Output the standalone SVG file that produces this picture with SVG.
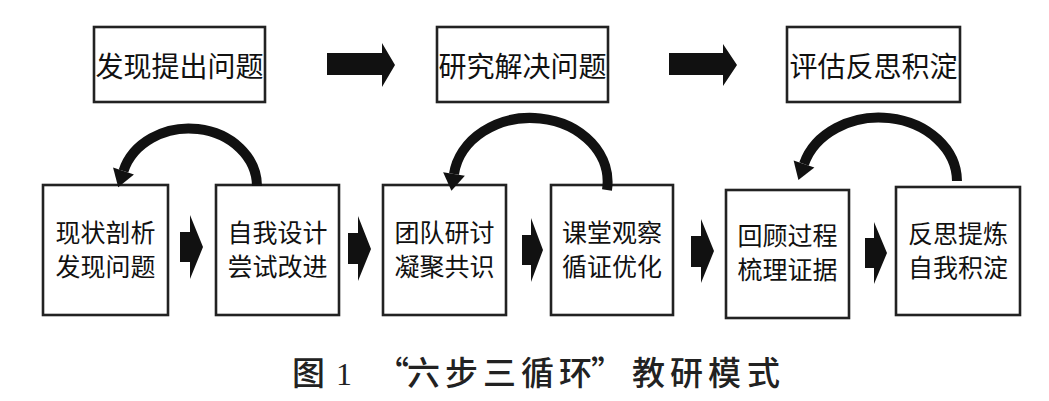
<svg xmlns="http://www.w3.org/2000/svg" width="1049" height="401" viewBox="0 0 1049 401">
<style>
.box{fill:#fff;stroke:#222;stroke-width:2.6}
.t{font-family:"Noto Sans CJK SC","Noto Sans CJK JP",sans-serif;font-size:25px;fill:#111;text-anchor:middle}
.tt{font-family:"Noto Sans CJK SC","Noto Sans CJK JP",sans-serif;font-size:28px;fill:#111;text-anchor:middle}
.blk{fill:#111}
.arc{fill:none;stroke:#111;stroke-width:10}
.cap{font-family:"Noto Sans CJK SC","Noto Sans CJK JP",sans-serif;font-size:33px;font-weight:500;fill:#222}
</style>
<defs>
<marker id="ah" markerUnits="userSpaceOnUse" markerWidth="20" markerHeight="24" viewBox="0 -12 18 24" refX="0" refY="0" orient="auto">
<path d="M0,-11 L17,0 L0,11 Z" fill="#111"/>
</marker>
</defs>
<rect width="1049" height="401" fill="#fff"/>
<g id="top1"><rect class="box" x="94" y="27" width="171" height="75"/><text class="tt" x="179.5" y="77">发现提出问题</text></g>
<g id="top2"><rect class="box" x="437" y="27" width="171" height="75"/><text class="tt" x="522.5" y="77">研究解决问题</text></g>
<g id="top3"><rect class="box" x="787" y="27" width="173" height="75"/><text class="tt" x="873.5" y="77">评估反思积淀</text></g>
<g id="step1"><rect class="box" x="43" y="185" width="125" height="130"/><text class="t" x="105.5" y="242">现状剖析</text><text class="t" x="105.5" y="276">发现问题</text></g>
<g id="step2"><rect class="box" x="216" y="185" width="123" height="130"/><text class="t" x="277.5" y="242">自我设计</text><text class="t" x="277.5" y="276">尝试改进</text></g>
<g id="step3"><rect class="box" x="383" y="185" width="123" height="130"/><text class="t" x="444.5" y="242">团队研讨</text><text class="t" x="444.5" y="276">凝聚共识</text></g>
<g id="step4"><rect class="box" x="551" y="185" width="122" height="130"/><text class="t" x="612" y="242">课堂观察</text><text class="t" x="612" y="276">循证优化</text></g>
<g id="step5"><rect class="box" x="726" y="190" width="123" height="128"/><text class="t" x="787.5" y="245">回顾过程</text><text class="t" x="787.5" y="279">梳理证据</text></g>
<g id="step6"><rect class="box" x="896" y="187" width="124" height="128"/><text class="t" x="958" y="243">反思提炼</text><text class="t" x="958" y="277">自我积淀</text></g>
<g id="connectors">
<polygon class="blk" points="327,53 382,53 382,43 395,65 382,87 382,75 327,75"/>
<polygon class="blk" points="669,53 723,53 723,44 737,65 723,86 723,75 669,75"/>
<polygon class="blk" points="180,232 190,232 190,215 203,247 190,279 190,262 180,262"/>
<polygon class="blk" points="348,233 358,233 358,216 371,249 358,281 358,264 348,264"/>
<polygon class="blk" points="522,235 531,235 531,218 543,250 531,282 531,265 522,265"/>
<polygon class="blk" points="691,236 701,236 701,219 714,251 701,283 701,267 691,267"/>
<polygon class="blk" points="865,238 874,238 874,222 887,253 874,284 874,268 865,268"/>
<path class="arc" d="M257,186 A68,58 0 0 0 123.5,171" marker-end="url(#ah)"/>
<path class="arc" d="M607,190 A77,64 0 0 0 454,174" marker-end="url(#ah)"/>
<path class="arc" d="M957,181 A78,64 0 0 0 804,164" marker-end="url(#ah)"/>
</g>
<text class="cap" x="292" y="385">图</text>
<text x="336" y="385" style="font-family:'Liberation Serif',serif;font-size:32px;fill:#222">1</text>
<text class="cap" x="376 407 445 483 521 559 591 632 670 708 747" y="385">“六步三循环”教研模式</text>
</svg>
